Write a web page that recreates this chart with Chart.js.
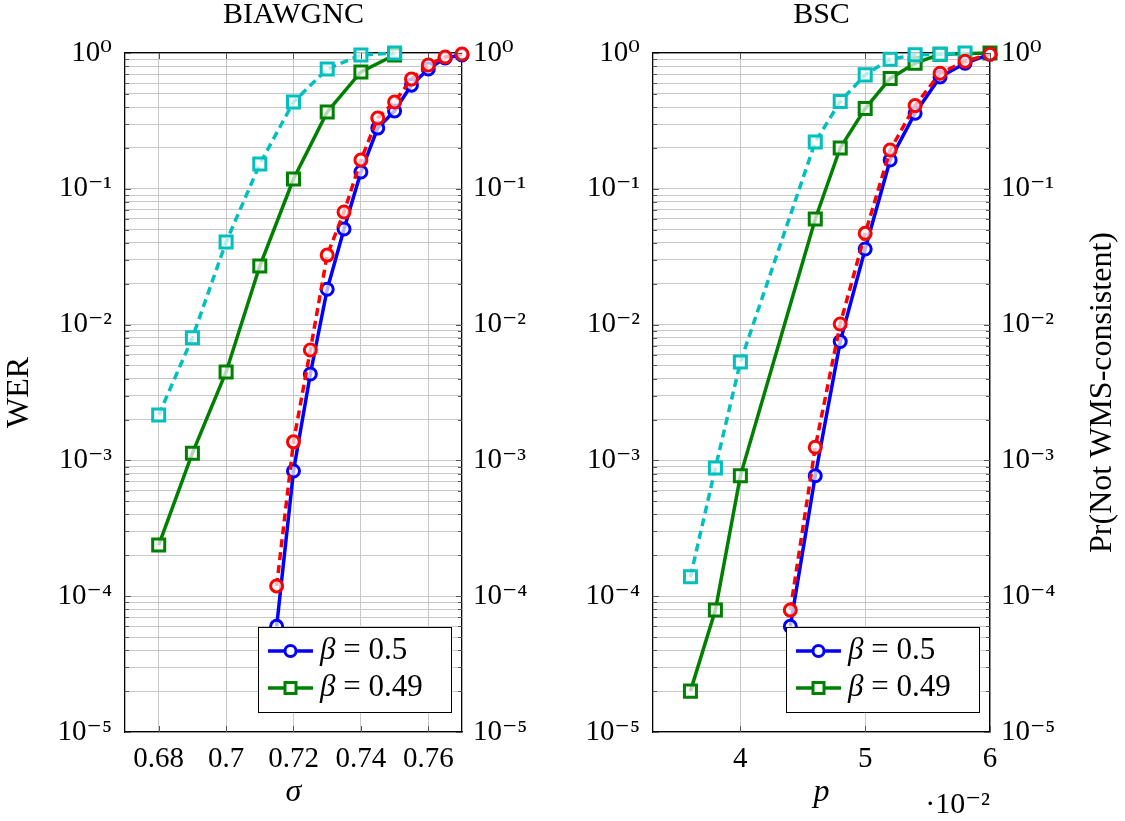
<!DOCTYPE html>
<html lang="en">
<head>
<meta charset="utf-8">
<title>WER vs channel parameter</title>
<script src="https://cdn.jsdelivr.net/npm/chart.js@4.4.0/dist/chart.umd.min.js"></script>
<style>
  body { margin: 0; background: #fff; }
  #wrap { position: relative; width: 1125px; height: 821px; }
  .panel { position: absolute; top: 0; }
</style>
</head>
<body>
<div id="wrap">
  <canvas class="panel" id="chartAwgn" width="562" height="821" style="left:0"></canvas>
  <canvas class="panel" id="chartBsc" width="563" height="821" style="left:562px"></canvas>
</div>
<script>
// ---- BIAWGNC panel data ----
const sigmaCoarse = [0.68, 0.69, 0.70, 0.71, 0.72, 0.73, 0.74, 0.75];
const awgnCyan  = [2.16e-3, 8.0e-3, 0.0406, 0.152, 0.436, 0.762, 0.967, 1.0];
const awgnGreen = [2.38e-4, 1.13e-3, 4.48e-3, 0.027, 0.118, 0.368, 0.725, 0.967];
const sigmaFine = [0.715, 0.72, 0.725, 0.73, 0.735, 0.74, 0.745, 0.75, 0.755, 0.76, 0.765, 0.77];
const awgnBlue  = [6.0e-5, 8.35e-4, 4.33e-3, 0.0182, 0.0506, 0.133, 0.28, 0.374, 0.58, 0.762, 0.92, 0.967];
const awgnRed   = [1.19e-4, 1.37e-3, 6.5e-3, 0.0325, 0.0675, 0.163, 0.332, 0.436, 0.644, 0.816, 0.935, 0.983];

// ---- BSC panel data ----
const pCyan  = [0.036, 0.038, 0.040, 0.046, 0.048, 0.050, 0.052, 0.054, 0.056, 0.058];
const bscCyan  = [1.39e-4, 8.8e-4, 5.3e-3, 0.221, 0.44, 0.69, 0.90, 0.97, 0.98, 1.0];
const pGreen = [0.036, 0.038, 0.040, 0.046, 0.048, 0.050, 0.052, 0.054, 0.056, 0.060];
const bscGreen = [2.0e-5, 7.9e-5, 7.7e-4, 0.06, 0.20, 0.39, 0.65, 0.84, 0.98, 1.0];
const pFine  = [0.044, 0.046, 0.048, 0.050, 0.052, 0.054, 0.056, 0.058, 0.060];
const bscBlue  = [6.0e-5, 7.7e-4, 7.5e-3, 0.036, 0.163, 0.36, 0.665, 0.84, 0.98];
const bscRed   = [7.9e-5, 1.25e-3, 0.0101, 0.047, 0.193, 0.41, 0.71, 0.87, 0.98];

// ---- axes / labels ----
const sigmaTicks = [0.68, 0.70, 0.72, 0.74, 0.76];
const pTicks = [0.04, 0.05, 0.06];
const decadeExps = [-5, -4, -3, -2, -1, 0];
const minorSteps = [2, 3, 4, 5, 6, 7, 8, 9];
const legendSymbol = 'β';
const legendValues = ['0.5', '0.49'];

const FONT = "'Liberation Serif', 'DejaVu Serif', serif";
Chart.defaults.font.family = FONT;
Chart.defaults.color = '#000';

const gridColor = '#c8c8c8';
const supMap = { '0': '⁰', '1': '¹', '2': '²', '3': '³', '4': '⁴', '5': '⁵', '6': '⁶', '7': '⁷', '8': '⁸', '9': '⁹', '-': '⁻' };
const toSup = n => String(n).split('').map(c => supMap[c]).join('');

// tick values for the log axis: decades plus 2..9 in between
const yTickValues = [];
decadeExps.forEach(e => {
  yTickValues.push(Math.pow(10, e));
  if (e < 0) minorSteps.forEach(m => yTickValues.push(m * Math.pow(10, e)));
});

const decadeLabel = v => {
  const lg = Math.log10(v);
  const e = Math.round(lg);
  return Math.abs(lg - e) < 1e-6 ? '10' + toSup(e) : '';
};

const series = (label, xs, ys, style) => ({
  label,
  data: xs.map((x, i) => ({ x: x, y: ys[i] })),
  clip: false,
  tension: 0,
  ...style
});

const markFill = 'rgba(255,255,255,0.7)';
const blueStyle  = { borderColor: '#0000ff', borderWidth: 3.5, pointStyle: 'circle', pointRadius: 6,
  pointBorderWidth: 3, pointBorderColor: '#0000ff', pointBackgroundColor: markFill };
const redStyle   = { borderColor: '#ff0000', borderWidth: 3.5, borderDash: [8, 5], pointStyle: 'circle', pointRadius: 6,
  pointBorderWidth: 3, pointBorderColor: '#ff0000', pointBackgroundColor: markFill };
const greenStyle = { borderColor: '#008000', borderWidth: 3.5, pointStyle: 'rect', pointRadius: 8.5,
  pointBorderWidth: 3, pointBorderColor: '#008000', pointBackgroundColor: markFill };
const cyanStyle  = { borderColor: '#00bfbf', borderWidth: 3.5, borderDash: [8, 5], pointStyle: 'rect', pointRadius: 8.5,
  pointBorderWidth: 3, pointBorderColor: '#00bfbf', pointBackgroundColor: markFill };

// extra drawing: inner tick marks, legend box, rotated right label, x multiplier
const panelExtras = {
  id: 'panelExtras',
  afterDraw(chart, args, opts) {
    const { ctx, chartArea: a } = chart;
    const seg = (x1, y1, x2, y2) => { ctx.beginPath(); ctx.moveTo(x1, y1); ctx.lineTo(x2, y2); ctx.stroke(); };
    ctx.save();
    ctx.setLineDash([]);
    ctx.strokeStyle = '#555';
    ctx.lineWidth = 1;
    chart.scales.y.ticks.forEach(t => {
      const py = Math.round(chart.scales.y.getPixelForValue(t.value)) + 0.5;
      const len = t.label ? 6 : 4;
      seg(a.left, py, a.left + len, py);
      seg(a.right - len, py, a.right, py);
    });
    chart.scales.x.ticks.forEach(t => {
      const px = Math.round(chart.scales.x.getPixelForValue(t.value)) + 0.5;
      seg(px, a.bottom, px, a.bottom - 6);
      seg(px, a.top, px, a.top + 6);
    });

    // legend
    const bw = 193, bh = 85;
    const bx = Math.round(a.right - 11 - bw), by = Math.round(a.bottom - 20 - bh);
    ctx.fillStyle = '#fff';
    ctx.fillRect(bx, by, bw, bh);
    ctx.strokeStyle = '#000';
    ctx.strokeRect(bx + 0.5, by + 0.5, bw, bh);
    opts.entries.forEach((e, i) => {
      const ds = chart.data.datasets[e.dataset];
      const ly = by + 24 + i * 37;
      ctx.setLineDash([]);
      ctx.strokeStyle = ds.borderColor;
      ctx.lineWidth = ds.borderWidth;
      seg(bx + 10, ly, bx + 55, ly);
      ctx.lineWidth = 3;
      ctx.fillStyle = '#fff';
      const mx = bx + 32.5;
      ctx.beginPath();
      if (ds.pointStyle === 'circle') ctx.arc(mx, ly, 5.5, 0, Math.PI * 2);
      else ctx.rect(mx - 5.5, ly - 5.5, 11, 11);
      ctx.fill();
      ctx.stroke();
      ctx.fillStyle = '#000';
      ctx.textBaseline = 'middle';
      ctx.textAlign = 'left';
      ctx.font = 'italic 31px ' + FONT;
      ctx.fillText(legendSymbol, bx + 62, ly);
      const w = ctx.measureText(legendSymbol).width;
      ctx.font = '31px ' + FONT;
      ctx.fillText(' = ' + legendValues[i], bx + 62 + w, ly);
    });

    if (opts.multiplier) {
      ctx.font = '30px ' + FONT;
      ctx.fillStyle = '#000';
      ctx.textAlign = 'right';
      ctx.textBaseline = 'middle';
      ctx.fillText(opts.multiplier, a.right, 805);
    }
    if (opts.rightTitle) {
      ctx.translate(chart.width - 22, (a.top + a.bottom) / 2);
      ctx.rotate(-Math.PI / 2);
      ctx.font = '32px ' + FONT;
      ctx.fillStyle = '#000';
      ctx.textAlign = 'center';
      ctx.textBaseline = 'middle';
      ctx.fillText(opts.rightTitle, 0, 0);
    }
    ctx.restore();
  }
};

const makeOptions = p => ({
  responsive: false,
  animation: false,
  layout: { padding: 0 },
  plugins: {
    legend: { display: false },
    tooltip: { enabled: false },
    panelExtras: { entries: [{ dataset: 2 }, { dataset: 3 }], multiplier: p.multiplier, rightTitle: p.rightTitle }
  },
  scales: {
    x: {
      type: 'linear', position: 'bottom', min: p.xMin, max: p.xMax,
      afterBuildTicks: s => { s.ticks = p.xTicks.map(v => ({ value: v })); },
      afterFit: s => { s.height = 89; },
      ticks: { font: { size: 29 }, color: '#000', padding: 10, maxRotation: 0, autoSkip: false, callback: p.xFormat },
      grid: { color: gridColor, lineWidth: 1, drawTicks: false },
      border: { color: '#000', width: 1.3 },
      title: { display: true, text: p.xTitle, font: { size: 32, style: 'italic', lineHeight: 1 }, color: '#000', padding: { top: 0, bottom: 12 } }
    },
    xTop: {
      type: 'linear', position: 'top', min: p.xMin, max: p.xMax,
      afterFit: s => { s.height = 53; },
      ticks: { display: false },
      grid: { display: false, drawTicks: false },
      border: { color: '#000', width: 1.3 },
      title: { display: true, text: p.title, font: { size: 30, lineHeight: 1 }, color: '#000', padding: 0 }
    },
    y: {
      type: 'logarithmic', position: 'left', min: 1e-5, max: 1,
      afterBuildTicks: s => { s.ticks = yTickValues.map(v => ({ value: v })); },
      afterFit: s => { s.width = p.leftW; },
      ticks: { font: { size: 29 }, color: '#000', padding: 13, autoSkip: false, callback: decadeLabel },
      grid: { color: gridColor, lineWidth: 1, drawTicks: false },
      border: { color: '#000', width: 1.3 },
      title: { display: !!p.yTitle, text: p.yTitle || '', font: { size: 32, lineHeight: 1 }, color: '#000', padding: { top: 4, bottom: 0 } }
    },
    y2: {
      type: 'logarithmic', position: 'right', min: 1e-5, max: 1,
      afterBuildTicks: s => { s.ticks = yTickValues.map(v => ({ value: v })); },
      afterFit: s => { s.width = p.rightW; },
      ticks: { font: { size: 29 }, color: '#000', padding: 11, autoSkip: false, callback: decadeLabel },
      grid: { display: false, drawTicks: false },
      border: { color: '#000', width: 1.3 }
    }
  }
});

new Chart(document.getElementById('chartAwgn'), {
  type: 'line',
  data: {
    datasets: [
      series('red', sigmaFine, awgnRed, redStyle),
      series('cyan', sigmaCoarse, awgnCyan, cyanStyle),
      series('β = 0.5', sigmaFine, awgnBlue, blueStyle),
      series('β = 0.49', sigmaCoarse, awgnGreen, greenStyle)
    ]
  },
  options: makeOptions({
    title: 'BIAWGNC', xTitle: 'σ', yTitle: 'WER',
    xMin: 0.67, xMax: 0.77, xTicks: sigmaTicks,
    xFormat: v => String(parseFloat(Number(v).toFixed(2))),
    leftW: 125, rightW: 100
  }),
  plugins: [panelExtras]
});

new Chart(document.getElementById('chartBsc'), {
  type: 'line',
  data: {
    datasets: [
      series('red', pFine, bscRed, redStyle),
      series('cyan', pCyan, bscCyan, cyanStyle),
      series('β = 0.5', pFine, bscBlue, blueStyle),
      series('β = 0.49', pGreen, bscGreen, greenStyle)
    ]
  },
  options: makeOptions({
    title: 'BSC', xTitle: 'p', yTitle: null,
    xMin: 0.033, xMax: 0.06, xTicks: pTicks,
    xFormat: v => String(Math.round(v * 100)),
    multiplier: '·10' + toSup(-2), rightTitle: 'Pr(Not WMS-consistent)',
    leftW: 91, rightW: 135
  }),
  plugins: [panelExtras]
});
</script>
</body>
</html>
